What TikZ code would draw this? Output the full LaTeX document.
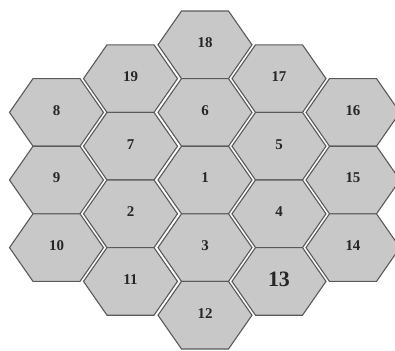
\documentclass[tikz,border=0pt]{standalone}
\usepackage{fontspec}
\setmainfont{Liberation Serif}
\definecolor{hexfill}{RGB}{200,200,200}
\definecolor{hexline}{RGB}{90,90,90}
\tikzset{
  hexcell/.style={draw=hexline, fill=hexfill, line width=1.1bp, line join=miter},
  hexlabel/.style={font=\bfseries\fontsize{15}{15}\selectfont, text=black!85, inner sep=0pt},
  biglabel/.style={font=\bfseries\fontsize{22}{22}\selectfont, text=black!85, inner sep=0pt}
}
\newcommand{\hexat}[5]{%
  \draw[hexcell, shift={(#1,#2)}] (47,0) -- (23.5,33.8) -- (-23.5,33.8) -- (-47,0) -- (-23.5,-33.8) -- (23.5,-33.8) -- cycle;
  \node[#5] (#3) at (#1,#2-2) {#4};
}
\begin{document}
\begin{tikzpicture}[x=1bp,y=-1bp]
\useasboundingbox (0,0) rectangle (395,351);
\clip (0,0) rectangle (395,351);
% column 1
\hexat{56.5}{112.4}{h8}{8}{hexlabel}
\hexat{56.5}{180}{h9}{9}{hexlabel}
\hexat{56.5}{247.6}{h10}{10}{hexlabel}
% column 2
\hexat{130.5}{78.6}{h19}{19}{hexlabel}
\hexat{130.5}{146.2}{h7}{7}{hexlabel}
\hexat{130.5}{213.8}{h2}{2}{hexlabel}
\hexat{130.5}{281.4}{h11}{11}{hexlabel}
% column 3
\hexat{205}{44.8}{h18}{18}{hexlabel}
\hexat{205}{112.4}{h6}{6}{hexlabel}
\hexat{205}{180}{h1}{1}{hexlabel}
\hexat{205}{247.6}{h3}{3}{hexlabel}
\hexat{205}{315.2}{h12}{12}{hexlabel}
% column 4
\hexat{279}{78.6}{h17}{17}{hexlabel}
\hexat{279}{146.2}{h5}{5}{hexlabel}
\hexat{279}{213.8}{h4}{4}{hexlabel}
\hexat{279}{281.4}{h13}{13}{biglabel}
% column 5
\hexat{353}{112.4}{h16}{16}{hexlabel}
\hexat{353}{180}{h15}{15}{hexlabel}
\hexat{353}{247.6}{h14}{14}{hexlabel}
\end{tikzpicture}
\end{document}
